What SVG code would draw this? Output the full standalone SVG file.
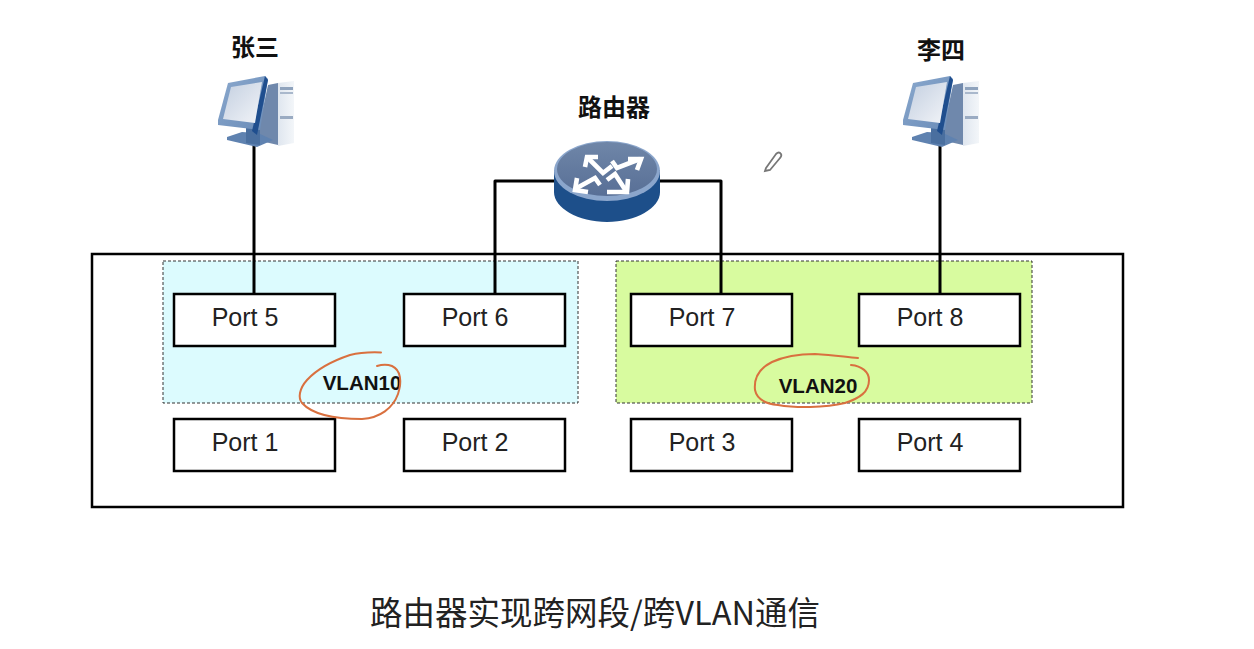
<svg xmlns="http://www.w3.org/2000/svg" xmlns:xlink="http://www.w3.org/1999/xlink" width="1254" height="649" viewBox="0 0 1254 649">
<style>
.port{fill:#fff;stroke:#000;stroke-width:2.5}
.pl{font:25px "Liberation Sans","Noto Sans",sans-serif;fill:#222;text-anchor:middle}
.head{font:700 24px "Noto Sans CJK SC",sans-serif;fill:#111;text-anchor:middle}
.vl{font:700 20.5px "Liberation Sans","Noto Sans",sans-serif;fill:#111;text-anchor:middle}
.wire{fill:none;stroke:#000;stroke-width:3;stroke-linejoin:round}
.vlan{stroke:#333;stroke-width:1;stroke-dasharray:3 2}
.ink{fill:none;stroke:#d9703f;stroke-width:2;stroke-linecap:round;stroke-linejoin:round}
.arrow{fill:none;stroke:#fff;stroke-width:4.6;stroke-linejoin:miter}
</style>
<defs>
<linearGradient id="screen" x1="0" y1="0" x2="1" y2="1"><stop offset="0" stop-color="#c3cfe0"/><stop offset="1" stop-color="#f2f4f8"/></linearGradient>
<linearGradient id="tower" x1="0" y1="0" x2="1" y2="0"><stop offset="0" stop-color="#dfe6ef"/><stop offset="1" stop-color="#f3f6f9"/></linearGradient>
<linearGradient id="frame" x1="0" y1="0" x2="1" y2="1"><stop offset="0" stop-color="#8aa8cd"/><stop offset="1" stop-color="#6a8cb8"/></linearGradient>
<linearGradient id="top" x1="0" y1="0" x2="0" y2="1"><stop offset="0" stop-color="#6f86a8"/><stop offset="1" stop-color="#586f96"/></linearGradient>
<symbol id="pc" width="90" height="80" viewBox="0 0 90 80" overflow="visible">
<polygon points="60,10 76,8 76,70 60,73" fill="url(#tower)"/>
<polygon points="50,12 60,10 60,72 38,67" fill="#6f88ac"/>
<rect x="62" y="14" width="13" height="3" fill="#8fa3bd"/><rect x="62" y="19" width="13" height="2" fill="#a9b8cc"/><rect x="62" y="43" width="13" height="3" fill="#9aabc2"/>
<polygon points="9,64 24,59 40,60 55,67 39,74 9,67" fill="#5f82b0"/>
<polygon points="28,52 42,54 42,72 28,70" fill="#4a6f9f"/>
<polygon points="10,10 47,3 50,6 42,57 0,52 0,47" fill="url(#frame)"/>
<polygon points="47,3 50,7 39,62 34,58" fill="#1f4e8e"/>
<polygon points="13,14 44,9 37,50 5,46" fill="url(#screen)"/>
</symbol>
</defs>
<rect width="1254" height="649" fill="#fff"/>
<g id="switch"><rect x="92" y="254" width="1031" height="253" fill="#fff" stroke="#000" stroke-width="2.5"/></g>
<g id="vlan10"><rect class="vlan" x="163" y="261" width="415" height="142" fill="#dcfbfe"/></g>
<g id="vlan20"><rect class="vlan" x="616" y="261" width="416" height="142" fill="#d8fb9f"/></g>
<g id="connectors">
<path class="wire" d="M254 140V294"/>
<path class="wire" d="M556 181H495V294"/>
<path class="wire" d="M657 181H721V294"/>
<path class="wire" d="M940 140V294"/>
</g>
<g id="pc-zhang"><use xlink:href="#pc" href="#pc" x="218" y="73"/><text class="head" x="255" y="56">张三</text></g>
<g id="pc-li"><use xlink:href="#pc" href="#pc" x="903" y="73"/><text class="head" x="941" y="59">李四</text></g>
<g id="router">
<text class="head" x="614" y="116">路由器</text>
<path d="M554 170V192C554 208 578 222 607 222S660 208 660 192V170Z" fill="#1d4f8a"/>
<ellipse cx="607" cy="171" rx="53" ry="30" fill="#8ba6cc"/>
<ellipse cx="607" cy="169" rx="50" ry="27" fill="url(#top)"/>
<g class="arrow">
<path d="M612 166L603 173L587 157"/><path d="M598 157H587L585 167"/>
<path d="M612 161L617 168L640 159"/><path d="M628 159H641L637 170"/>
<path d="M600 185L595 178L575 189"/><path d="M577 178L575 190L588 192"/>
<path d="M607 180L615 174L626 191"/><path d="M607 192H627L628 179"/>
</g>
</g>
<g id="pencil"><path d="M766 168L776 154Q779 151 781 154Q782 156 780 158L770 170L765 171Z" fill="#fff" stroke="#777" stroke-width="1.8"/></g>
<g id="port5"><rect class="port" x="174" y="294" width="161" height="52"/><text class="pl" x="245" y="326">Port 5</text></g>
<g id="port6"><rect class="port" x="404" y="294" width="161" height="52"/><text class="pl" x="475" y="326">Port 6</text></g>
<g id="port7"><rect class="port" x="631" y="294" width="161" height="52"/><text class="pl" x="702" y="326">Port 7</text></g>
<g id="port8"><rect class="port" x="859" y="294" width="161" height="52"/><text class="pl" x="930" y="326">Port 8</text></g>
<g id="port1"><rect class="port" x="174" y="419" width="161" height="52"/><text class="pl" x="245" y="451">Port 1</text></g>
<g id="port2"><rect class="port" x="404" y="419" width="161" height="52"/><text class="pl" x="475" y="451">Port 2</text></g>
<g id="port3"><rect class="port" x="631" y="419" width="161" height="52"/><text class="pl" x="702" y="451">Port 3</text></g>
<g id="port4"><rect class="port" x="859" y="419" width="161" height="52"/><text class="pl" x="930" y="451">Port 4</text></g>
<text class="vl" x="362" y="390">VLAN10</text>
<text class="vl" x="818" y="393">VLAN20</text>
<path class="ink" d="M381 352.500C368 352 358 353 350 355C335 360 318 368 307 380C299 389 298 398 302 403C312 414 335 419 362 419C380 418 393 408 398 394C402 382 401 370 392 366C387 364 380 365 377 366"/>
<path class="ink" d="M858 358C845 357 835 355 815 354C800 354 785 356 772 362C758 369 754 380 755 390C757 400 768 404 778 405C795 408 825 408 845 403C860 398 869 392 869 380C869 372 862 366 851 365"/>
<text x="595" y="625" text-anchor="middle" font-family="'Noto Sans CJK SC','Noto Sans',sans-serif" font-size="32.5" fill="#222">路由器实现跨网段/跨VLAN通信</text>
</svg>
